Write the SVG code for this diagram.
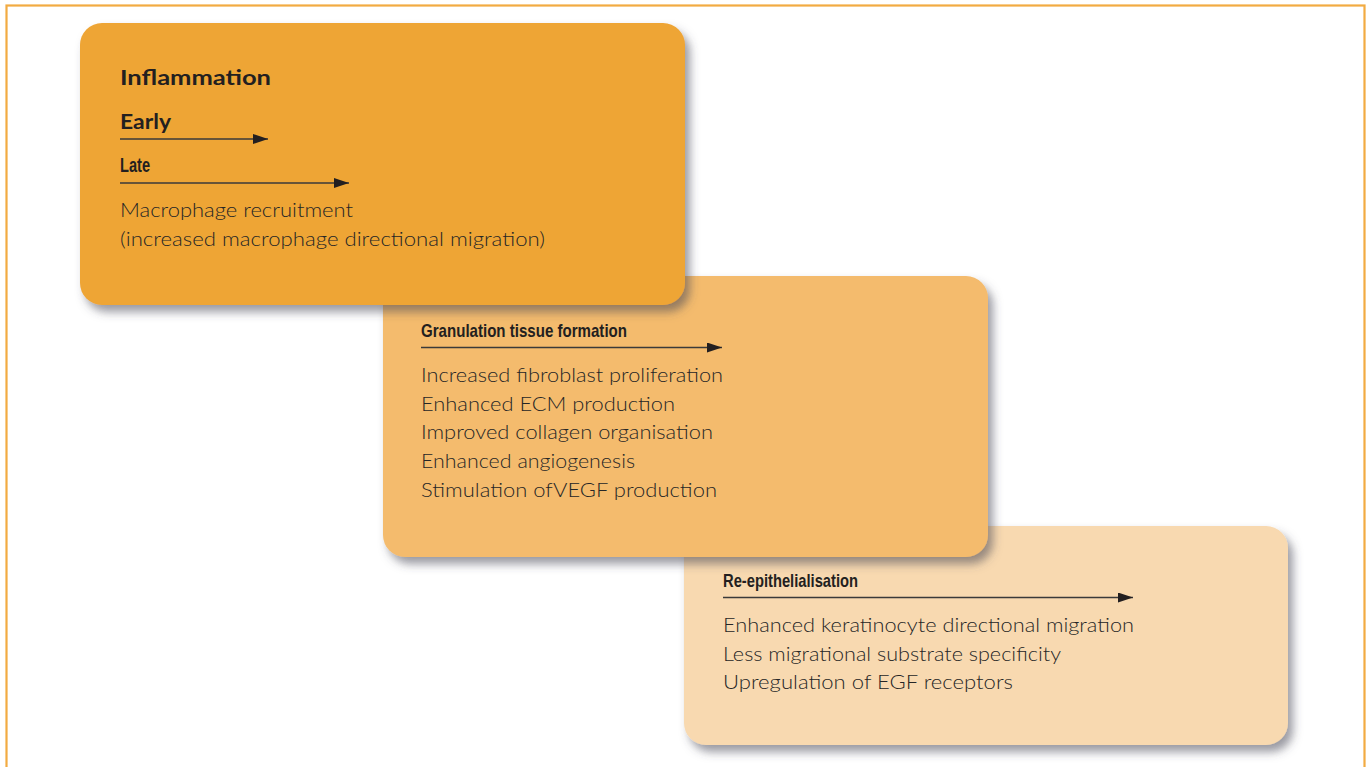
<svg xmlns="http://www.w3.org/2000/svg" width="1366" height="767" viewBox="0 0 1366 767">
  <defs>
    <filter id="sh" x="-10%" y="-10%" width="125%" height="130%">
      <feDropShadow dx="5" dy="7" stdDeviation="5" flood-color="#4a4a55" flood-opacity="0.55"/>
    </filter>
    <marker id="ah" viewBox="0 0 15 10" refX="15" refY="5" markerWidth="15" markerHeight="10" markerUnits="userSpaceOnUse" orient="auto">
      <path d="M0,0 L15,5 L0,10 Z" fill="#231f20"/>
    </marker>
  </defs>
  <style>
    .frame { fill: none; stroke: #f2ab42; stroke-width: 2.2; }
    .box { filter: url(#sh); }
    .b1 { fill: #eea536; }
    .b2 { fill: #f4bb6d; }
    .b3 { fill: #f8d9b0; }
    .h { font-family: Lato, "Open Sans", "Liberation Sans", sans-serif; font-weight: 700; fill: #231f20; }
    .hc { font-family: "Liberation Sans Narrow", "Liberation Sans", sans-serif; font-weight: 700; fill: #231f20; }
    .t { font-family: Lato, "Open Sans", "Liberation Sans", sans-serif; font-weight: 300; font-size: 20.5px; fill: #262626; }
    .arr { stroke: #3a3a3a; stroke-width: 1.4; fill: none; marker-end: url(#ah); }
  </style>
  <rect class="frame" x="6.5" y="5.5" width="1358" height="780"/>

  <g id="node-reepithelialisation">
    <rect class="box b3" x="684" y="526" width="604" height="219" rx="22"/>
    <text class="hc" x="723" y="587" font-size="19" textLength="135" lengthAdjust="spacingAndGlyphs">Re-epithelialisation</text>
    <text class="t" x="723" y="632" textLength="411" lengthAdjust="spacingAndGlyphs">Enhanced keratinocyte directional migration</text>
    <text class="t" x="723" y="660.5" textLength="338" lengthAdjust="spacingAndGlyphs">Less migrational substrate specificity</text>
    <text class="t" x="723" y="689" textLength="290" lengthAdjust="spacingAndGlyphs">Upregulation of EGF receptors</text>
  </g>

  <g id="node-granulation">
    <rect class="box b2" x="383" y="276" width="605" height="281" rx="22"/>
    <text class="hc" x="421" y="337" font-size="19" textLength="206" lengthAdjust="spacingAndGlyphs">Granulation tissue formation</text>
    <text class="t" x="421" y="382" textLength="302" lengthAdjust="spacingAndGlyphs">Increased fibroblast proliferation</text>
    <text class="t" x="421" y="410.7" textLength="254" lengthAdjust="spacingAndGlyphs">Enhanced ECM production</text>
    <text class="t" x="421" y="439.4" textLength="292" lengthAdjust="spacingAndGlyphs">Improved collagen organisation</text>
    <text class="t" x="421" y="468.1" textLength="214" lengthAdjust="spacingAndGlyphs">Enhanced angiogenesis</text>
    <text class="t" x="421" y="496.8" textLength="296" lengthAdjust="spacingAndGlyphs">Stimulation ofVEGF production</text>
  </g>

  <g id="node-inflammation">
    <rect class="box b1" x="80" y="23" width="605" height="282" rx="22"/>
    <text class="h" x="120" y="85" font-size="21" textLength="151" lengthAdjust="spacingAndGlyphs">Inflammation</text>
    <text class="h" x="120" y="129" font-size="21.5" textLength="51" lengthAdjust="spacingAndGlyphs">Early</text>
    <text class="hc" x="120" y="172" font-size="20" textLength="30" lengthAdjust="spacingAndGlyphs">Late</text>
    <text class="t" x="120" y="217" textLength="233" lengthAdjust="spacingAndGlyphs">Macrophage recruitment</text>
    <text class="t" x="120" y="246" textLength="425" lengthAdjust="spacingAndGlyphs">(increased macrophage directional migration)</text>
  </g>

  <g id="connectors">
    <line class="arr" x1="120" y1="139" x2="268" y2="139"/>
    <line class="arr" x1="120" y1="183" x2="349" y2="183"/>
    <line class="arr" x1="421" y1="347.5" x2="722" y2="347.5"/>
    <line class="arr" x1="723" y1="597.5" x2="1133" y2="597.5"/>
  </g>
</svg>
